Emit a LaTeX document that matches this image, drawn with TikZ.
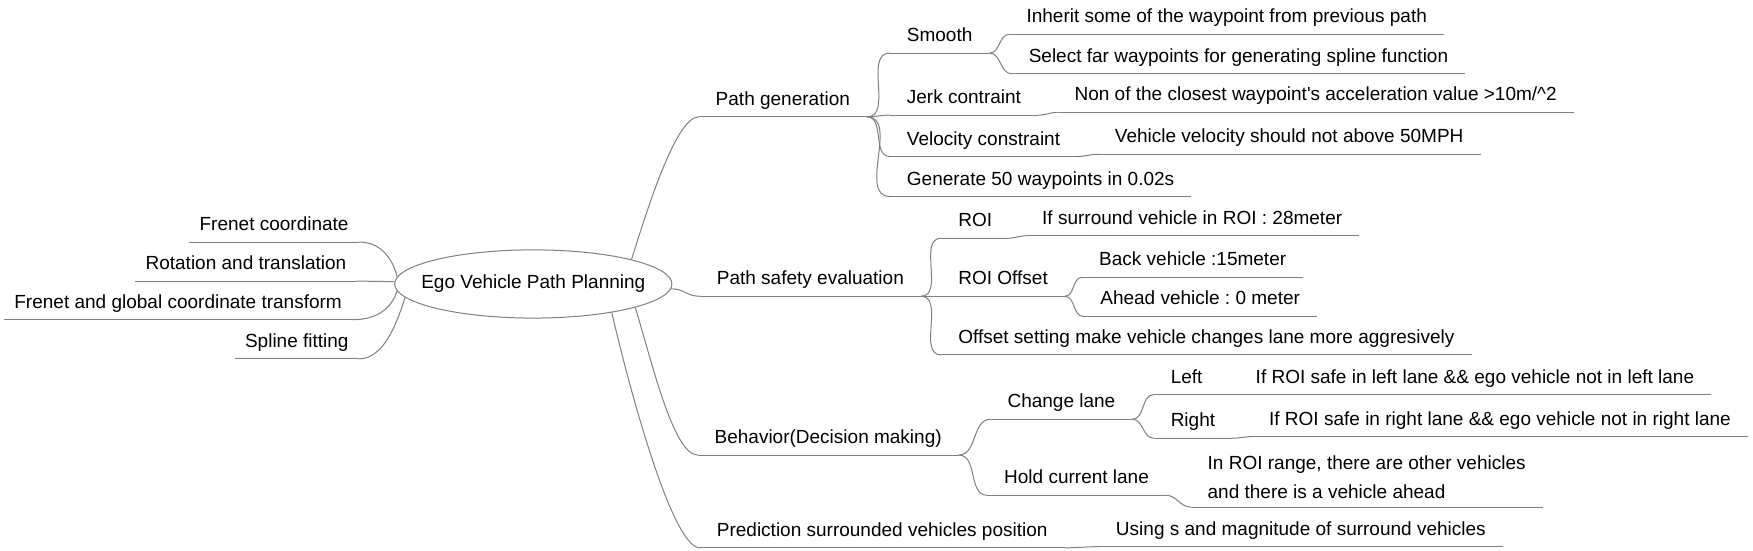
\documentclass[tikz,border=0pt]{standalone}
\usepackage{fontspec}
\setmainfont{Liberation Sans}
\usetikzlibrary{shapes.geometric}
\definecolor{linegray}{RGB}{128,128,128}
\tikzset{every node/.style={font=\fontsize{17}{21}\selectfont\frenchspacing}}
\tikzset{link/.style={draw=linegray, line width=0.9pt}}
\tikzset{topic/.style={anchor=south west, inner xsep=15pt, inner ysep=6.5pt, text height=12.5pt, text depth=3.5pt}}
\tikzset{ltopic/.style={topic, anchor=south east, inner xsep=9pt}}

\begin{document}
\begin{tikzpicture}[x=1pt, y=-1pt]
  \useasboundingbox (0,0) rectangle (1568,492);

  \node[ellipse, link, minimum width=248pt, minimum height=61pt, inner xsep=-30pt, inner ysep=0pt] (root) at (477,254) {Ego Vehicle Path Planning};

  % left side
  \node[ltopic] (fc) at (321,216.5) {Frenet coordinate};
  \node[ltopic] (rt) at (319,251.5) {Rotation and translation};
  \node[ltopic] (ft) at (315,286) {Frenet and global coordinate transform};
  \node[ltopic] (sp) at (321,321) {Spline fitting};

  % path generation
  \node[topic] (pg) at (625,104.5) {Path generation};
  \node[topic] (sm) at (796,47.5) {Smooth};
  \node[topic] (ih) at (903,30.7) {Inherit some of the waypoint from previous path};
  \node[topic] (sf) at (905,66) {Select far waypoints for generating spline function};
  \node[topic] (jc) at (796,103) {Jerk contraint};
  \node[topic] (na) at (946,100.5) {Non of the closest waypoint\textquotesingle s acceleration value >10m/\textasciicircum 2};
  \node[topic] (vc) at (796,140) {Velocity constraint};
  \node[topic] (vv) at (982,138) {Vehicle velocity should not above 50MPH};
  \node[topic] (gw) at (796,175.7) {Generate 50 waypoints in 0.02s};

  % path safety
  \node[topic] (ps) at (626,265) {Path safety evaluation};
  \node[topic] (roi) at (842,213) {ROI};
  \node[topic] (sv) at (917,211) {If surround vehicle in ROI : 28meter};
  \node[topic] (ro) at (842,265) {ROI Offset};
  \node[topic] (bv) at (968,248) {Back vehicle :15meter};
  \node[topic] (av) at (969,283) {Ahead vehicle : 0 meter};
  \node[topic] (os) at (842,317.5) {Offset setting make vehicle changes lane more aggresively};

  % behavior
  \node[topic] (bh) at (624,407) {Behavior(Decision making)};
  \node[topic] (cl) at (886,375) {Change lane};
  \node[topic] (lt) at (1032,353) {Left};
  \node[topic] (sl) at (1108,353) {If ROI safe in left lane \&\& ego vehicle not in left lane};
  \node[topic] (rg) at (1032,392) {Right};
  \node[topic] (sr) at (1120,390.5) {If ROI safe in right lane \&\& ego vehicle not in right lane};
  \node[topic] (hc) at (883,443) {Hold current lane};
  \node[topic, align=left, text height=, text depth=, inner ysep=7.5pt] (ir) at (1065,453.5) {In ROI range, there are other vehicles\\[4.5pt] and there is a vehicle ahead};

  % prediction
  \node[topic] (pr) at (626,490) {Prediction surrounded vehicles position};
  \node[topic] (us) at (983,489) {Using s and magnitude of surround vehicles};

  % underlines
  \foreach \n in {fc,rt,ft,sp,pg,sm,ih,sf,jc,na,vc,vv,gw,ps,roi,sv,ro,bv,av,os,bh,cl,lt,sl,rg,sr,hc,ir,pr,us}
    \draw[link] (\n.south west) -- (\n.south east);

  % links from the root
  \draw[link] (fc.south east) .. controls +(20,0) and +(-4,-16) .. (root.177);
  \draw[link] (rt.south east) .. controls +(15,0) and +(-15,0) .. (root.179);
  \draw[link] (ft.south east) .. controls +(26,0) and +(-4,12) .. (root.183);
  \draw[link] (sp.south east) .. controls +(24,0) and +(-6,18) .. (root.186);
  \draw[link] (root.14) .. controls +(15,-48) and +(-20,0) .. (pg.south west);
  \draw[link] (root.358) .. controls +(12,0) and +(-12,0) .. (ps.south west);
  \draw[link] (root.347) .. controls +(14,45) and +(-22,0) .. (bh.south west);
  \draw[link] (root.340) .. controls +(15,65) and +(-25,0) .. (pr.south west);

  % links between topics
  \foreach \a/\b in {pg/sm,pg/jc,pg/vc,pg/gw,sm/ih,sm/sf,jc/na,vc/vv,
    ps/roi,ps/ro,ps/os,roi/sv,ro/bv,ro/av,
    bh/cl,bh/hc,cl/lt,cl/rg,lt/sl,rg/sr,hc/ir,pr/us}
    \draw[link] (\a.south east) to[out=0,in=180] (\b.south west);
\end{tikzpicture}
\end{document}
